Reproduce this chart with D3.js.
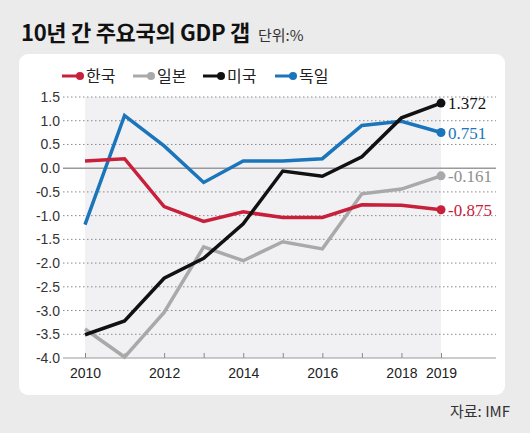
<!DOCTYPE html>
<html><head><meta charset="utf-8">
<script src="https://cdn.jsdelivr.net/npm/d3@7"></script>
<style>
body{margin:0;background:#ebebeb;}
svg{display:block;}
</style></head>
<body>
<svg id="c" width="530" height="433"></svg>
<script>
const years = [2010,2011,2012,2013,2014,2015,2016,2017,2018,2019];
const korea   = [0.15, 0.2, -0.81, -1.12, -0.92, -1.04, -1.04, -0.77, -0.78, -0.875];
const japan   = [-3.39, -3.98, -3.04, -1.66, -1.95, -1.55, -1.70, -0.54, -0.44, -0.161];
const usa     = [-3.51, -3.22, -2.32, -1.9, -1.17, -0.06, -0.17, 0.24, 1.06, 1.372];
const germany = [-1.19, 1.11, 0.47, -0.30, 0.15, 0.15, 0.2, 0.9, 0.99, 0.751];
const seriesNames = ["한국","일본","미국","독일"];
const seriesColors = ["#c8203a","#a9a9a9","#111111","#1b75bb"];
const endLabels = ["-0.875","-0.161","1.372","0.751"];
const yTicks = [1.5,1.0,0.5,0.0,-0.5,-1.0,-1.5,-2.0,-2.5,-3.0,-3.5,-4.0];
const xTickLabels = [2010,2012,2014,2016,2018,2019];

const series = [korea, japan, usa, germany];
const svg = d3.select("#c");
const kfont = "'Noto Sans CJK KR', 'Noto Sans', sans-serif";
const nfont = "'Liberation Sans', Arial, sans-serif";

// title
svg.append("text").attr("x",21).attr("y",41)
  .attr("font-family",kfont).attr("font-weight","bold").attr("font-size",22)
  .attr("fill","#111").attr("letter-spacing","-0.3")
  .text("10년 간 주요국의 GDP 갭");
svg.append("text").attr("x",258).attr("y",41)
  .attr("font-family",kfont).attr("font-size",15).attr("fill","#333")
  .text("단위:%");

// panel
svg.append("rect").attr("x",19).attr("y",54).attr("width",486).attr("height",341)
  .attr("rx",9).attr("fill","#fff");

const x = d3.scaleLinear().domain([2010,2019]).range([85,441]);
const y = d3.scaleLinear().domain([-4,1.5]).range([358,97]);

// shaded area
svg.append("rect").attr("x",x(2010)).attr("y",y(1.5))
  .attr("width",x(2019)-x(2010)).attr("height",y(-4)-y(1.5))
  .attr("fill","#f1f1f4");

// gridlines
svg.append("g").selectAll("line").data(yTicks.filter(d=>d!==0 && d!==-4)).join("line")
  .attr("x1",63).attr("x2",496).attr("y1",d=>y(d)).attr("y2",d=>y(d))
  .attr("stroke","#8a8a8a").attr("stroke-width",1).attr("stroke-dasharray","1.5,2.5");
svg.append("line").attr("x1",63).attr("x2",496).attr("y1",y(0)).attr("y2",y(0))
  .attr("stroke","#9a9a9a").attr("stroke-width",1.6);

// y axis labels
const yAxis = d3.axisLeft(y).tickValues(yTicks).tickSize(0).tickPadding(0)
  .tickFormat(d3.format(".1f"));
const ya = svg.append("g").attr("transform","translate(60,0)").call(yAxis);
ya.select(".domain").remove();
ya.selectAll("text").attr("font-family",nfont).attr("font-size",14).attr("fill","#333")
  .text(d=>d3.format(".1f")(d).replace("−","-"));

// x axis
const xAxis = d3.axisBottom(x).tickValues(years).tickSize(-5).tickPadding(10)
  .tickFormat(d=>xTickLabels.includes(d)?d:"");
const xa = svg.append("g").attr("transform",`translate(0,${y(-4)})`).call(xAxis);
xa.select(".domain").remove();
xa.selectAll(".tick line").attr("stroke","#888").attr("stroke-width",1);
xa.selectAll("text").attr("font-family",nfont).attr("font-size",14).attr("fill","#222");
svg.append("line").attr("x1",63).attr("x2",496).attr("y1",y(-4)).attr("y2",y(-4))
  .attr("stroke","#999").attr("stroke-width",1.2);

// lines
const line = d3.line().x((d,i)=>x(years[i])).y(d=>y(d));
const order = [1,3,0,2]; // draw order: japan, germany, korea, usa
order.forEach(k=>{
  svg.append("path").datum(series[k]).attr("d",line)
    .attr("fill","none").attr("stroke",seriesColors[k]).attr("stroke-width",3.5)
    .attr("stroke-linejoin","miter");
  svg.append("circle").attr("cx",x(2019)).attr("cy",y(series[k][9])).attr("r",4.5)
    .attr("fill",seriesColors[k]);
});

// end labels
const endY = [y(korea[9]), y(japan[9]), y(usa[9]), y(germany[9])];
endLabels.forEach((t,k)=>{
  svg.append("text").attr("x",448).attr("y",endY[k]).attr("dy","0.36em")
    .attr("font-family","'Liberation Serif','Times New Roman',serif").attr("font-size",17)
    .attr("fill",k===1?"#8f8f8f":seriesColors[k]).text(t);
});

// legend
const legX = [62,133,203,275];
seriesNames.forEach((n,k)=>{
  const g = svg.append("g").attr("transform",`translate(${legX[k]},76)`);
  g.append("line").attr("x1",0).attr("x2",18).attr("y1",0).attr("y2",0)
    .attr("stroke",seriesColors[k]).attr("stroke-width",3);
  g.append("circle").attr("cx",18).attr("cy",0).attr("r",4).attr("fill",seriesColors[k]);
  g.append("text").attr("x",24).attr("y",0).attr("dy","0.36em")
    .attr("font-family",kfont).attr("font-size",16).attr("fill","#222").text(n);
});

// source
svg.append("text").attr("x",510).attr("y",417).attr("text-anchor","end")
  .attr("font-family",kfont).attr("font-size",15).attr("fill","#333").text("자료: IMF");
</script>
</body></html>
